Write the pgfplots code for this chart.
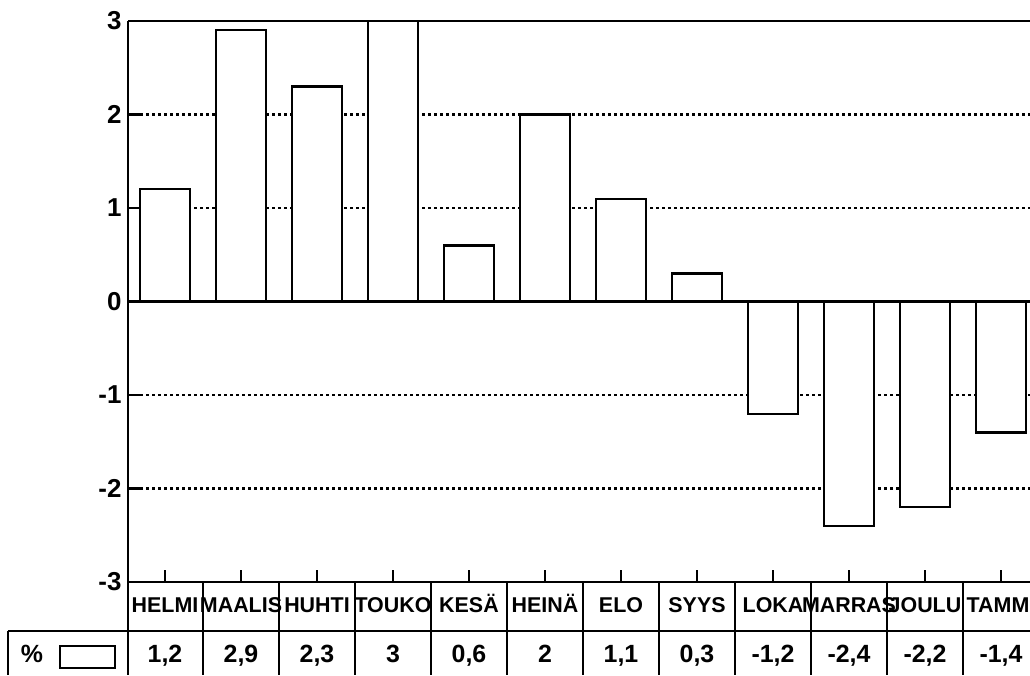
\documentclass[border=0pt]{standalone}
\usepackage{pgfplots}
\pgfplotsset{compat=1.18}
\usepackage{pgfplotstable}
\usepackage{fontspec}
\setmainfont{Liberation Sans}
\pgfplotstableread{
x y
0 1.2
1 2.9
2 2.3
3 3
4 0.6
5 2
6 1.1
7 0.3
8 -1.2
9 -2.4
10 -2.2
11 -1.4
}\data
\begin{document}
\begin{tikzpicture}
\begin{axis}[
  at={(128bp,-582bp)}, anchor=south west,
  scale only axis, width=902bp, height=561bp,
  xmin=-0.4868, xmax=11.3816, ymin=-3, ymax=3,
  axis x line*=bottom, axis y line*=left,
  axis line style={-, line width=2.2bp, black},
  xtick={0,...,11},
  xticklabels={HELMI,MAALIS,HUHTI,TOUKO,KESÄ,HEINÄ,ELO,SYYS,LOKA,MARRAS,JOULU,TAMMI},
  ytick={-3,-2,-1,0,1,2,3},
  tick align=inside, major tick length=12bp,
  tick style={line width=2.2bp, black},
  ymajorgrids,
  grid style={line width=2.5bp, dash pattern=on 2.5bp off 3.5bp, black},
  xticklabel style={font=\fontsize{21.5}{21.5}\selectfont\bfseries, anchor=center, yshift=-27bp, text height=0.72em, text depth=0pt, inner sep=0pt},
  yticklabel style={font=\fontsize{26}{26}\selectfont\bfseries, xshift=-3bp},
  /pgf/number format/assume math mode=true,
  clip=false,
]
\addplot[ybar, bar width=50bp, fill=white, draw=black, line width=2.2bp] table[x=x, y=y] {\data};
\addplot[draw=none, mark=none, point meta=explicit,
  nodes near coords={\pgfmathprintnumber[use comma, assume math mode=true]{\pgfplotspointmeta}},
  nodes near coords align=center,
  every node near coord/.append style={font=\fontsize{25}{25}\selectfont\bfseries, anchor=center, text height=0.72em, text depth=0pt, inner sep=0pt}]
  table[x=x, y expr=-3.82, meta=y] {\data};
% zero line and top frame
\draw[line width=2.2bp] (axis cs:-0.4868,0) -- (axis cs:11.3816,0);
\draw[line width=2.2bp] (axis cs:-0.4868,3) -- (axis cs:11.3816,3);
% table grid
\draw[line width=2.2bp] (axis cs:-2.066,-3.523) -- (axis cs:11.3816,-3.523);
\draw[line width=2.2bp] (axis cs:-0.4868,-3) -- (axis cs:-0.4868,-3.995);
\draw[line width=2.2bp] (axis cs:-2.066,-3.523) -- (axis cs:-2.066,-3.995);
\foreach \k in {0,...,10} {
  \edef\temp{\noexpand\draw[line width=2bp] (axis cs:\k+0.5,-3) -- (axis cs:\k+0.5,-3.995);}
  \temp
}
\draw[line width=1.8bp] (axis cs:-1.382,-3.683) rectangle (axis cs:-0.658,-3.918);
\node[font=\fontsize{25}{25}\selectfont\bfseries, anchor=center, text height=0.72em, text depth=0pt, inner sep=0pt] at (axis cs:-1.75,-3.82) {\%};
\end{axis}
\pgfresetboundingbox
\useasboundingbox (0,0) rectangle (1030bp,-676bp);
\end{tikzpicture}
\end{document}
